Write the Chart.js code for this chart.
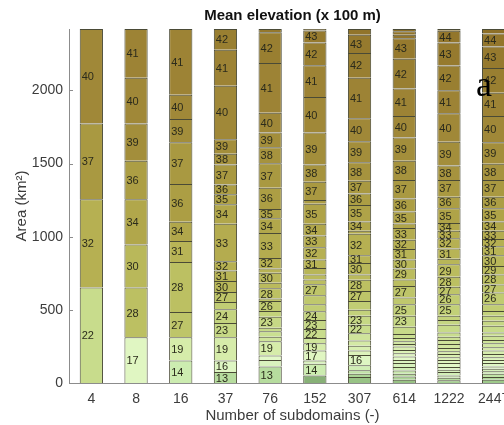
<!DOCTYPE html>
<html>
<head>
<meta charset="utf-8">
<script src="https://cdn.jsdelivr.net/npm/chart.js@4.4.1/dist/chart.umd.min.js"></script>
<style>
  html, body { margin: 0; padding: 0; background: #fff; overflow: hidden; }
</style>
</head>
<body>
<canvas id="elevChart" width="520" height="425"></canvas>
<script>
const subdomains = ['4', '8', '16', '37', '76', '152', '307', '614', '1222', '2447']
const yTicks = [0, 500, 1000, 1500, 2000]

// area (km2) of each band, bottom to top, and its mean elevation (x 100 m)
// elevations written with a decimal are bands that carry no label in the figure
const area4 = [652, 604, 518, 646]
const elev4 = [22, 32, 37, 40]

const area8 = [312, 340, 294, 310, 264, 254, 312, 334]
const elev8 = [17, 28, 30, 34, 36, 39, 40, 41]

const area16 = [154, 158, 174, 342, 143, 131, 258, 285, 160, 166, 449]
const elev16 = [14, 19, 27, 28, 31, 34, 36, 37, 39, 40, 41]

const area37 = [75, 79, 158, 98, 95, 49, 68, 75, 72, 64, 255, 134, 68, 67, 136, 75, 99, 365, 246, 142]
const elev37 = [13, 16, 19, 23, 24, 25.5, 27, 30, 31, 32, 33, 34, 35, 36, 37, 38, 39, 40, 41, 42]

const area76 = [113, 45, 30, 97, 32, 36, 25, 75, 40, 68, 16, 70, 39, 67, 30, 72, 170, 102, 63, 145, 167, 109, 102, 135, 340, 210, 22]
const elev76 = [13, 15.5, 16.5, 19, 20.5, 21.5, 22.5, 23, 24.5, 26, 27.5, 28, 29.5, 30, 31.5, 32, 33, 34, 35, 36, 37, 38, 39, 40, 41, 42, 43.5]

const area152 = [52, 79, 23, 68, 49, 37, 61, 61, 60, 49, 61, 75, 33, 34, 45, 57, 84, 81, 79, 137, 26, 124, 118, 220, 242, 217, 156, 82, 10]
const elev152 = [10.5, 14, 15.5, 17, 19, 20.5, 22, 23, 24, 25.5, 26.5, 27, 28.5, 29.5, 30.5, 31, 32, 33, 34, 35, 36.4, 37, 38, 39, 40, 41, 42, 43, 44.5]

const area307 = [41, 23, 23, 35, 69, 31, 33, 35, 50, 58, 61, 41, 61, 68, 77, 36, 79, 52, 147, 21, 63, 113, 79, 86, 127, 143, 158, 276, 170, 124, 40]
const elev307 = [11.5, 12.5, 13.5, 14.5, 16, 17.5, 18.5, 19.5, 20.5, 22, 23, 24.5, 25.5, 27, 28, 29.5, 30, 31, 32, 33.5, 34, 35, 36, 37, 38, 39, 40, 41, 42, 43, 44.5]

const area614 = [23, 22, 18, 23, 23, 27, 22, 23, 23, 22, 23, 18, 18, 23, 27, 50, 74, 80, 45, 79, 45, 75, 61, 72, 64, 79, 31, 82, 90, 125, 133, 159, 147, 188, 203, 140, 23, 24, 16]
const elev614 = [11.5, 12.5, 13.2, 13.8, 14.5, 15.2, 15.8, 16.5, 17.2, 17.8, 18.5, 19.2, 19.8, 20.5, 21.5, 22.5, 23, 25, 26.5, 27, 28.4, 29, 30, 31, 32, 33, 34.5, 35, 36, 37, 38, 39, 40, 41, 42, 43, 44.2, 44.7, 45.5]

const area1222 = [18, 18, 16, 23, 15, 19, 27, 22, 18, 23, 18, 23, 27, 27, 23, 29, 52, 32, 29, 80, 67, 52, 68, 86, 38, 70, 70, 50, 53, 102, 79, 113, 100, 162, 195, 158, 168, 158, 80, 12]
const elev1222 = [12.2, 13.1, 14.1, 14.8, 15.5, 16.1, 16.6, 17.2, 17.8, 18.4, 19.1, 19.5, 20.1, 20.6, 21.2, 21.8, 22.5, 23.5, 24.5, 25, 26, 27, 28, 29, 30.5, 31, 32, 33, 34, 35, 36, 37, 38, 39, 40, 41, 42, 43, 44, 45.5]

const area2447 = [23, 18, 22, 18, 16, 16, 23, 22, 18, 23, 23, 22, 27, 23, 29, 23, 45, 34, 34, 34, 46, 79, 56, 68, 57, 74, 61, 51, 56, 63, 91, 79, 113, 111, 147, 181, 158, 170, 147, 89, 30]
const elev2447 = [11.9, 12.7, 13.5, 14.3, 15.1, 15.7, 16.3, 16.9, 17.5, 18.1, 18.7, 19.3, 19.9, 20.5, 21.1, 21.7, 22.3, 23.2, 23.8, 24.6, 25.5, 26, 27, 28, 29, 30, 31, 32, 33, 34, 35, 36, 37, 38, 39, 40, 41, 42, 43, 44, 45.5]

const areas = [area4, area8, area16, area37, area76, area152, area307, area614, area1222, area2447]
const elevs = [elev4, elev8, elev16, elev37, elev76, elev152, elev307, elev614, elev1222, elev2447]

// colour ramp: dark green -> pale green -> olive -> brown
const ramp = [
  [10, [128, 168, 112]],
  [12, [160, 204, 140]],
  [14, [204, 236, 176]],
  [16.5, [226, 248, 200]],
  [19, [214, 236, 170]],
  [22, [200, 220, 140]],
  [25, [194, 208, 120]],
  [28, [188, 192, 98]],
  [32, [182, 176, 82]],
  [36, [172, 158, 68]],
  [40, [160, 136, 56]],
  [43, [150, 122, 46]],
  [46, [140, 110, 38]]
]
function elevColor(e) {
  if (e <= ramp[0][0]) return `rgb(${ramp[0][1].join(',')})`
  for (let i = 1; i < ramp.length; i++) {
    if (e <= ramp[i][0]) {
      const [e0, c0] = ramp[i - 1]
      const [e1, c1] = ramp[i]
      const t = (e - e0) / (e1 - e0)
      const c = c0.map((v, j) => Math.round(v + (c1[j] - v) * t))
      return `rgb(${c.join(',')})`
    }
  }
  return `rgb(${ramp[ramp.length - 1][1].join(',')})`
}

const nBands = Math.max(...areas.map(a => a.length))
const datasets = []
for (let k = 0; k < nBands; k++) {
  datasets.push({
    data: areas.map(a => (a[k] === undefined ? null : a[k])),
    backgroundColor: elevs.map(e => (e[k] === undefined ? 'transparent' : elevColor(e[k]))),
    borderColor: '#4a4a36',
    borderWidth: 1,
    borderSkipped: 'bottom',
    barPercentage: 0.52,
    categoryPercentage: 1
  })
}

const fontFamily = '"Liberation Sans", Arial, Helvetica, sans-serif'

// elevation numbers written inside each band
const bandLabels = {
  id: 'bandLabels',
  afterDatasetsDraw(chart) {
    const ctx = chart.ctx
    ctx.save()
    ctx.font = '11px ' + fontFamily
    ctx.fillStyle = '#2b2b1c'
    ctx.textAlign = 'left'
    ctx.textBaseline = 'middle'
    chart.data.datasets.forEach((ds, k) => {
      chart.getDatasetMeta(k).data.forEach((bar, i) => {
        const e = elevs[i][k]
        if (e === undefined || !Number.isInteger(e)) return
        ctx.fillText(String(e), bar.x - bar.width / 2 + 2, (bar.y + bar.base) / 2 + 1)
      })
    })
    ctx.restore()
  }
}

// inward tick marks on the y axis and the panel letter
const extras = {
  id: 'extras',
  afterDraw(chart) {
    const ctx = chart.ctx
    const y = chart.scales.y
    const left = chart.chartArea.left
    ctx.save()
    ctx.strokeStyle = '#8c8c8c'
    ctx.lineWidth = 1
    yTicks.forEach(v => {
      const py = Math.round(y.getPixelForValue(v)) + 0.5
      ctx.beginPath()
      ctx.moveTo(left, py)
      ctx.lineTo(left + 4, py)
      ctx.stroke()
    })
    ctx.fillStyle = '#000'
    ctx.font = '36px "Liberation Serif", "Times New Roman", serif'
    ctx.textAlign = 'left'
    ctx.textBaseline = 'alphabetic'
    ctx.fillText('a', 476, 96)
    ctx.restore()
  }
}

new Chart(document.getElementById('elevChart'), {
  type: 'bar',
  data: { labels: subdomains, datasets: datasets },
  plugins: [bandLabels, extras],
  options: {
    responsive: false,
    animation: false,
    layout: { padding: { top: 0, right: 4, bottom: 0, left: 0 } },
    plugins: {
      legend: { display: false },
      tooltip: { enabled: false },
      title: {
        display: true,
        text: 'Mean elevation (x 100 m)',
        fullSize: false,
        color: '#111',
        font: { family: fontFamily, size: 15, weight: 'bold' },
        padding: { top: 7, bottom: 4 }
      }
    },
    scales: {
      x: {
        stacked: true,
        afterFit: s => { s.height = 42 },
        grid: { display: false, drawTicks: false },
        border: { color: '#8c8c8c', width: 1 },
        ticks: { color: '#3c3c3c', font: { family: fontFamily, size: 14 }, padding: 8, maxRotation: 0, autoSkip: false },
        title: {
          display: true,
          text: 'Number of subdomains (-)',
          color: '#3c3c3c',
          font: { family: fontFamily, size: 15 },
          padding: { top: 0, bottom: 0 }
        }
      },
      y: {
        stacked: true,
        min: 0,
        max: 2420,
        afterBuildTicks: s => { s.ticks = yTicks.map(v => ({ value: v })) },
        afterFit: s => { s.width = 69 },
        grid: { display: false, drawTicks: false },
        border: { color: '#8c8c8c', width: 1 },
        ticks: {
          color: '#3c3c3c',
          font: { family: fontFamily, size: 14 },
          padding: 6,
          callback: v => String(v)
        },
        title: {
          display: true,
          text: 'Area (km²)',
          color: '#3c3c3c',
          font: { family: fontFamily, size: 15 },
          padding: { top: 13, bottom: 0 }
        }
      }
    }
  }
})
</script>
</body>
</html>
